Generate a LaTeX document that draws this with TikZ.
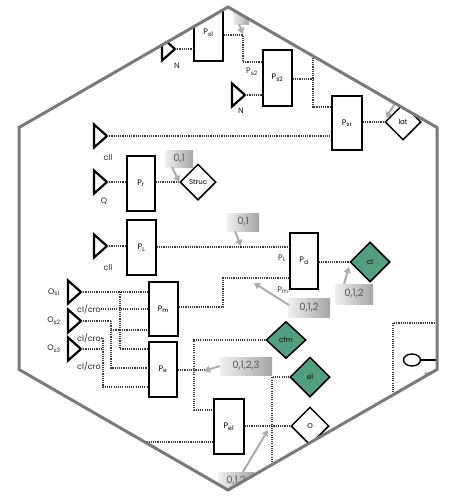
\documentclass[tikz,border=0pt]{standalone}
\usepackage{fontspec}
\setmainfont{Poppins}
\usetikzlibrary{shapes.geometric,arrows.meta}
\definecolor{tealg}{RGB}{84,158,128}
\definecolor{hexgray}{RGB}{122,122,122}
\definecolor{dotc}{RGB}{60,60,60}
\begin{document}
\begin{tikzpicture}[x=1pt,y=-1pt,
  pbox/.style={draw, line width=1.7pt, inner sep=0pt, font=\fontsize{8}{9}\selectfont},
  dia/.style={diamond, draw, line width=1.5pt, aspect=1, inner sep=0pt, font=\fontsize{7}{8}\selectfont},
  gdia/.style={dia, fill=tealg},
  dotl/.style={line width=1.8pt, dash pattern=on 1.1pt off 1.1pt, draw=dotc},
  tri/.style={draw, line width=2.2pt, line join=miter},
  lbl/.style={inner sep=0pt, font=\fontsize{8}{9}\selectfont, text=black!85},
  glab/.style={left color=gray!12, right color=gray!70, draw=none, inner sep=1pt, text=black!65, font=\fontsize{10}{11}\selectfont},
  garr/.style={draw=gray!65, line width=2pt, -{Triangle[length=6pt,width=7pt]}},
]
\useasboundingbox (0,0) rectangle (449,498);
\begin{scope}
\clip (228,7) -- (437,127.5) -- (437,369.5) -- (228,490) -- (19,369.5) -- (19,127.5) -- cycle;
% boxes
\node[pbox, minimum width=29pt, minimum height=56pt] (Ps1) at (208.5,33) {P\textsubscript{s1}};
\node[pbox, minimum width=29pt, minimum height=56pt] (Ps2) at (277.5,78) {P\textsubscript{s2}};
\node[pbox, minimum width=30pt, minimum height=54pt] (Psr) at (347,123) {P\textsubscript{sr}};
\node[pbox, minimum width=28pt, minimum height=55pt] (Pr) at (141,183.5) {P\textsubscript{r}};
\node[pbox, minimum width=29pt, minimum height=55pt] (PL) at (141.5,247.5) {P\textsubscript{L}};
\node[pbox, minimum width=28pt, minimum height=56pt] (Pd) at (304,261) {P\textsubscript{d}};
\node[pbox, minimum width=29pt, minimum height=54pt] (Pm) at (163.5,309) {P\textsubscript{m}};
\node[pbox, minimum width=28pt, minimum height=55pt] (Pe) at (163,369.5) {P\textsubscript{e}};
\node[pbox, minimum width=30pt, minimum height=55pt] (Pe1) at (229,426.5) {P\textsubscript{e1}};
% diamonds
\node[dia, minimum width=36pt, minimum height=36pt] (lat) at (403,122) {lat};
\node[dia, minimum width=36pt, minimum height=36pt] (struc) at (198,182) {Struc};
\node[gdia, minimum width=40pt, minimum height=40pt] (cl) at (370,262) {cl};
\node[gdia, minimum width=40pt, minimum height=37pt] (cfm) at (286,340) {cfm};
\node[gdia, minimum width=40pt, minimum height=40pt] (el) at (310,377) {el};
\node[dia, minimum width=38pt, minimum height=38pt] (O) at (310,426) {O};
% triangles
\coordinate (tN1) at (175,49);
\coordinate (tN2) at (245,95);
\coordinate (tC1) at (107,136);
\coordinate (tQ) at (107,182);
\coordinate (tC2) at (107,246);
\coordinate (tO1) at (81,292);
\coordinate (tO2) at (81,321);
\coordinate (tO3) at (81,349);
\foreach \t in {tN1,tN2,tC1,tQ,tC2,tO1,tO2,tO3}
  \draw[tri] (\t) -- ++(-13,-11.5) -- ++(0,23) -- cycle;
% labels
\node[lbl] (nN1) at (177,66) {N};
\node[lbl] (nN2) at (241,111) {N};
\node[lbl] (nC1) at (108,158) {cll};
\node[lbl] (nQ) at (104,201) {Q};
\node[lbl] (nC2) at (108,268) {cll};
\node[lbl] (nO1) at (54,292) {O\textsubscript{s1}};
\node[lbl] (nO2) at (54,321) {O\textsubscript{s2}};
\node[lbl] (nO3) at (54,349) {O\textsubscript{s3}};
\node[lbl] (cc1) at (89,309) {cl/cro};
\node[lbl] (cc2) at (89,338) {cl/cro};
\node[lbl] (cc3) at (89,366) {cl/cro};
\node[lbl] (lPs2) at (252,72) {P\textsubscript{s2}};
\node[lbl] (lPL) at (282,258) {P\textsubscript{L}};
\node[lbl] (lPm) at (283,290) {P\textsubscript{m}};
\node[lbl, font=\fontsize{6}{7}\selectfont] (stru) at (430,374) {stru};
% connectors
\draw[dotl] (tN1) -- (Ps1.west |- tN1);
\draw[dotl] (Ps1.east |- 0,35) -- (243,35) -- (243,62) -- (Ps2.west |- 0,62);
\draw[dotl] (tN2) -- (Ps2.west |- tN2);
\draw[dotl] (Ps2.east |- 0,79) -- (313,79);
\draw[dotl] (313,40) -- (313,107) -- (Psr.west |- 0,107);
\draw[dotl] (Psr.east |- lat) -- (lat.west);
\draw[dotl] (tC1) -- (Psr.west |- tC1);
\draw[dotl] (tQ) -- (Pr.west |- tQ);
\draw[dotl] (Pr.east |- struc) -- (struc.west);
\draw[dotl] (tC2) -- (PL.west |- tC2);
\draw[dotl] (PL.east |- 0,247) -- (Pd.west |- 0,247);
\draw[dotl] (Pd.east |- cl) -- (cl.west);
\draw[dotl] (Pm.east |- 0,307) -- (223,307) -- (223,278) -- (Pd.west |- 0,278);
\draw[dotl] (Pe.east |- 0,370) -- (206,370);
\draw[dotl] (cfm.west) -- (194,340) -- (194,410) -- (Pe1.west |- 0,410);
\draw[dotl] (el.west) -- (272,377) -- (272,485);
\draw[dotl] (Pe1.east |- O) -- (O.west);
\draw[dotl] (120,442) -- (Pe1.west |- 0,442);
% bus
\draw[dotl] (tO1) -- (Pm.west |- tO1);
\draw[dotl] (120,292) -- (120,349) -- (Pe.west |- 0,349);
\draw[dotl] (cc1.east) -- (Pm.west |- cc1);
\draw[dotl] (tO2) -- (111,321);
\draw[dotl] (111,321) -- (111,368) -- (Pe.west |- 0,368);
\draw[dotl] (111,330) -- (Pm.west |- 0,330);
\draw[dotl] (tO3) -- (103,349);
\draw[dotl] (cc2.east) -- (103,338) -- (103,387) -- (Pe.west |- 0,387);
% right frame and lollipop
\draw[dotl] (393,410) -- (393,323) -- (445,323);
\node[draw, ellipse, line width=1.4pt, minimum width=17pt, minimum height=12pt, inner sep=0pt] (lolly) at (412,360) {};
\draw[line width=1.4pt] (lolly.east) -- (445,360);
% gray labels and pointers
\node[glab, minimum width=28pt, minimum height=17pt] (g1) at (179,158.5) {0,1};
\draw[garr] ([xshift=-7pt]g1.south) -- (struc.west);
\node[glab, minimum width=32pt, minimum height=18pt] (g2) at (243,222) {0,1};
\coordinate (a2) at (241,246);
\draw[garr] ([xshift=-8pt]g2.south) -- (a2);
\node[glab, minimum width=38pt, minimum height=20pt] (g3) at (354,294) {0,1,2};
\coordinate (a3) at (349,267);
\draw[garr] ([xshift=-10pt]g3.north) -- (a3);
\node[glab, minimum width=42pt, minimum height=19pt] (g4) at (309,308) {0,1,2};
\coordinate (a4) at (254,283);
\draw[garr] ([xshift=-20pt,yshift=3pt]g4.center) -- (a4);
\node[glab, minimum width=52pt, minimum height=18pt] (g5) at (246,366) {0,1,2,3};
\coordinate (a5) at (204,371);
\draw[garr] (g5.west) -- (a5);
\node[glab, minimum width=36pt, minimum height=18pt] (g6) at (236,481) {0,1,2};
\coordinate (a6) at (268,430);
\draw[garr] ([xshift=7pt]g6.north) -- (a6);
\node[glab, minimum width=16pt, minimum height=16pt] (g7) at (241,16) {};
\coordinate (a7) at (243,34);
\draw[garr] ([xshift=-2pt]g7.south) -- (a7);
\node[glab, minimum width=20pt, minimum height=14pt] (g8) at (398,96) {};
\coordinate (a8) at (386,118);
\draw[garr] ([xshift=-3pt]g8.south) -- (a8);
\end{scope}
\draw[hexgray, line width=3pt, line join=miter] (228,7) -- (437,127.5) -- (437,369.5) -- (228,490) -- (19,369.5) -- (19,127.5) -- cycle;
\end{tikzpicture}
\end{document}
